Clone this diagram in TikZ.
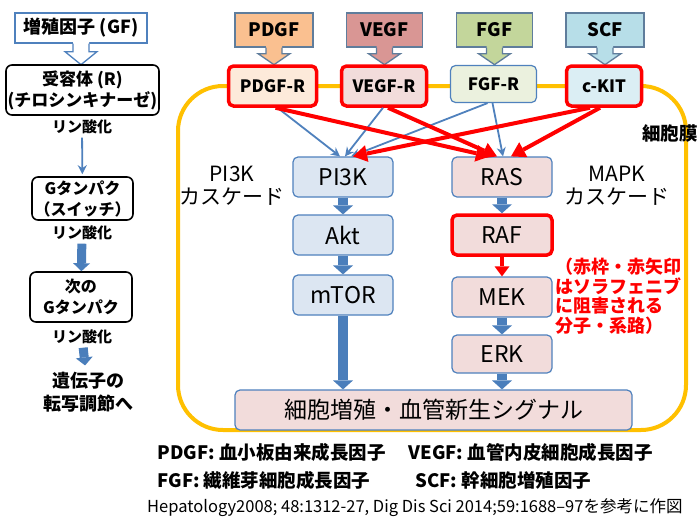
\documentclass[tikz,border=0pt]{standalone}
\usepackage{fontspec}
\setmainfont{Noto Sans CJK JP}
\usetikzlibrary{arrows.meta}
\definecolor{bord}{HTML}{4F81BD}
\definecolor{topb}{HTML}{5F7D9C}
\definecolor{memb}{HTML}{FFC000}
\definecolor{rred}{HTML}{FF0000}
\definecolor{lblue}{HTML}{DCE6F2}
\definecolor{lpink}{HTML}{F2DCDB}
\definecolor{fpdgf}{HTML}{FAC090}
\definecolor{fvegf}{HTML}{D99694}
\definecolor{ffgf}{HTML}{C3D69B}
\definecolor{fscf}{HTML}{B7DEE8}
\definecolor{fpdgfr}{HTML}{FDEADA}
\definecolor{fvegfr}{HTML}{F2DCDB}
\definecolor{ffgfr}{HTML}{EBF1DE}
\definecolor{fckit}{HTML}{DBEEF4}
\definecolor{blkc}{HTML}{4A7EBB}
\newcommand\fsz[2]{\fontsize{#1}{#2}\selectfont}
\newcommand\callarrow[5]{% node, fill, border, shaft length, head length
  \fill[#2] (#1.south) ++(-8,-1.5) -- ++(0,#4+1.5) -- ++(-8,0) -- ++(16,#5) -- ++(16,-#5) -- ++(-8,0) -- ++(0,-#4-1.5) -- cycle;
  \draw[#3, line width=1.3pt, line join=miter] (#1.south) ++(-8,0) -- ++(0,#4) -- ++(-8,0) -- ++(16,#5) -- ++(16,-#5) -- ++(-8,0) -- ++(0,-#4);
}
\begin{document}
\begin{tikzpicture}[x=1pt,y=-1pt,
  topbox/.style={draw=topb, line width=1.3pt, minimum width=76pt, minimum height=34pt, inner sep=0pt, font=\bfseries\fsz{18.5}{20}},
  recbox/.style={rounded corners=5pt, minimum height=40pt, inner sep=0pt, font=\bfseries\fsz{17}{20}},
  redb/.style={draw=rred, line width=3.5pt},
  blueb/.style={draw=bord, line width=1.2pt},
  casc/.style={rounded corners=5pt, draw=bord, line width=1.2pt, minimum width=100pt, minimum height=40pt, inner sep=0pt, font=\fsz{23}{25}},
  lbox/.style={rounded corners=6pt, draw=black, line width=1.6pt, align=center, inner sep=0pt, font=\bfseries\fsz{16}{21}},
  phos/.style={font=\bfseries\fsz{15}{17}},
  clab/.style={align=center, font=\fsz{21}{23}},
  legd/.style={anchor=west, font=\bfseries\fsz{18.5}{20}},
  thinb/.style={draw=bord, line width=1.8pt, -{Stealth[width=9pt,length=9pt]}},
  thinr/.style={draw=rred, line width=4pt, -{Triangle[width=17pt,length=14pt,line width=0pt]}},
  blockarr/.style={draw=blkc, line width=10pt, -{Triangle[width=20pt,length=9pt,line width=0pt]}},
  blockarrs/.style={draw=blkc, line width=9pt, -{Triangle[width=17pt,length=8pt,line width=0pt]}},
  rsmall/.style={draw=rred, line width=3.5pt, -{Triangle[width=15pt,length=10pt,line width=0pt]}}
]
\useasboundingbox (0,0) rectangle (699,520);
\fill[white] (0,0) rectangle (699,520);

% membrane
\draw[memb, line width=4pt, rounded corners=45pt] (178,86) rectangle (686,430);
\node[anchor=west, inner sep=0pt, font=\bfseries\fsz{18.5}{21}] (membl) at (642,133) {細胞膜};

% left column
\node[draw=bord, line width=1.3pt, fill=white, minimum width=132pt, minimum height=30pt, inner sep=0pt, font=\bfseries\fsz{18}{20}] (gf) at (81,28) {増殖因子 (GF)};
\callarrow{gf}{white}{bord}{8}{13}
\node[lbox, fill=white, minimum width=153pt, minimum height=50pt, font=\bfseries\fsz{17}{21}] (rec) at (82.5,90) {受容体 (R)\\(チロシンキナーゼ)};
\node[phos] (p1) at (82,127) {リン酸化};
\node[lbox, minimum width=101pt, minimum height=43pt] (gp) at (82.5,198.5) {Gタンパク\\（スイッチ）};
\node[phos] (p2) at (82,233) {リン酸化};
\node[lbox, minimum width=102pt, minimum height=50pt] (gp2) at (81,297) {次の\\Gタンパク};
\node[phos] (p3) at (82,337) {リン酸化};
\node[align=center, font=\bfseries\fsz{18}{23}] (fin) at (88,392) {遺伝子の\\転写調節へ};
\draw[thinb, shorten >=2pt] (p1) -- (gp);
\draw[blockarrs] (p2) -- (gp2);
\draw[blockarrs, shorten >=3pt] (p3) -- (fin);

% growth factors
\node[topbox, fill=fpdgf, minimum width=78pt] (pdgf) at (274,30) {PDGF};
\node[topbox, fill=fvegf] (vegf) at (384.5,30) {VEGF};
\node[topbox, fill=ffgf] (fgf) at (494.5,30) {FGF};
\node[topbox, fill=fscf, minimum width=78pt] (scf) at (605,30) {SCF};
\callarrow{pdgf}{fpdgf}{topb}{6}{11}
\callarrow{vegf}{fvegf}{topb}{6}{11}
\callarrow{fgf}{ffgf}{topb}{6}{11}
\callarrow{scf}{fscf}{topb}{6}{11}

% receptors
\node[recbox, redb, fill=fpdgfr, minimum width=88pt] (pdgfr) at (272.5,86) {PDGF-R};
\node[recbox, redb, fill=fvegfr, minimum width=85pt] (vegfr) at (384,86) {VEGF-R};
\node[recbox, blueb, fill=ffgfr, minimum width=86pt, minimum height=37pt] (fgfr) at (493.5,84) {FGF-R};
\node[recbox, redb, fill=fckit, minimum width=75pt] (ckit) at (604,86) {c-KIT};

% cascades
\node[casc, fill=lblue] (pi3k) at (343,177) {PI3K};
\node[casc, fill=lblue] (akt) at (343,235) {Akt};
\node[casc, fill=lblue] (mtor) at (343,295) {mTOR};
\node[casc, fill=lpink] (ras) at (502,177) {RAS};
\node[casc, fill=lpink, draw=rred, line width=3.5pt] (raf) at (502,235) {RAF};
\node[casc, fill=lpink] (mek) at (502,297) {MEK};
\node[casc, fill=lpink, minimum height=38pt] (erk) at (502,354) {ERK};
\node[casc, fill=lpink, minimum width=397pt, font=\fsz{23}{25}] (sig) at (433.5,410) {細胞増殖・血管新生シグナル};

\node[clab] (l3k) at (232,186) {PI3K\\カスケード};
\node[clab] (lmapk) at (617,186) {MAPK\\カスケード};
\node[anchor=north west, align=left, text=rred, font=\bfseries\fsz{18}{19.5}, inner sep=0pt] (note) at (555,258) {（赤枠・赤矢印\\はソラフェニブ\\に阻害される\\分子・系路）};

% receptor -> cascade arrows
\draw[thinb] ([xshift=5pt]pdgfr.south) -- ([xshift=-3pt]pi3k.north);
\draw[thinb] ([xshift=-1pt]vegfr.south) -- ([xshift=2pt]pi3k.north);
\draw[thinb] ([xshift=-6pt]fgfr.south) -- ([xshift=8pt]pi3k.north);
\draw[thinb] ([xshift=-1pt]fgfr.south) -- ([xshift=1pt]ras.north);
\draw[thinr] ([xshift=3pt]pdgfr.south) -- ([xshift=-12pt]ras.north);
\draw[thinr] ([xshift=4pt]vegfr.south) -- ([xshift=-5pt]ras.north);
\draw[thinr] ([xshift=-14pt]ckit.south) -- ([xshift=10pt]pi3k.north);
\draw[thinr] ([xshift=-4pt]ckit.south) -- ([xshift=9pt]ras.north);

% cascade arrows
\draw[blockarr] (pi3k) -- (akt);
\draw[blockarr] (akt) -- (mtor);
\draw[blockarr] (mtor.south) -- (mtor.south |- sig.north);
\draw[blockarr] (ras) -- (raf);
\draw[rsmall] (raf) -- (mek);
\draw[blockarr] (mek) -- (erk);
\draw[blockarr] (erk.south) -- (erk.south |- sig.north);

% legend
\node[legd] (lg1) at (154,452) {PDGF: 血小板由来成長因子};
\node[legd] (lg2) at (405,452) {VEGF: 血管内皮細胞成長因子};
\node[legd] (lg3) at (154,480) {FGF: 繊維芽細胞成長因子};
\node[legd] (lg4) at (412,480) {SCF: 幹細胞増殖因子};
\node[anchor=west, inner sep=0pt, font=\fsz{16.5}{18}] (ref) at (147,508) {Hepatology2008; 48:1312-27, Dig Dis Sci 2014;59:1688–97を参考に作図};
\end{tikzpicture}
\end{document}
